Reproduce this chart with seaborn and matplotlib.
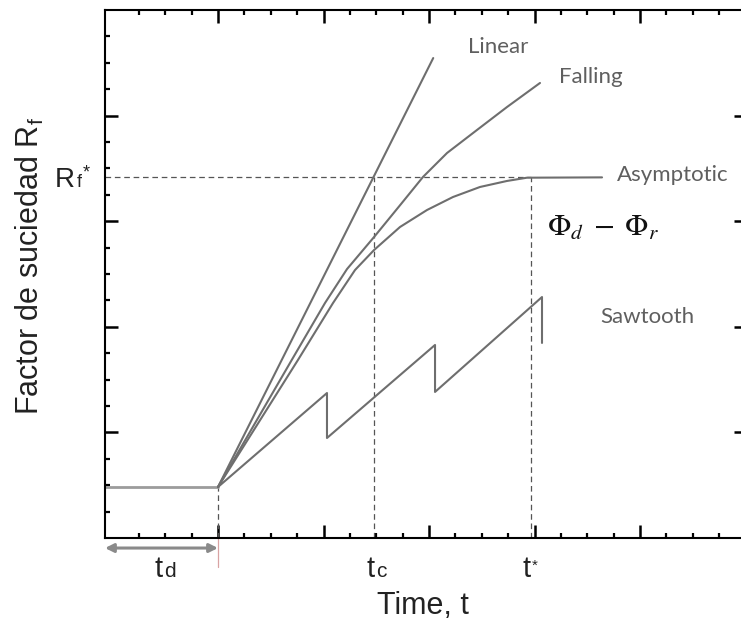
import matplotlib
matplotlib.use("Agg")
import matplotlib.pyplot as plt
from matplotlib.ticker import FixedLocator, NullFormatter
import seaborn as sns

# ---------------- data ----------------
lead_time = [-0.07, 1.0]
lead_level = [0.483, 0.483]

linear_t = [1.0, 3.04]
linear_r = [0.483, 4.545]

falling_t = [1.000, 1.699, 2.014, 2.223, 2.479, 2.735, 2.943, 3.171, 3.455, 3.739, 4.052]
falling_r = [0.483, 1.686, 2.225, 2.547, 2.850, 3.163, 3.419, 3.646, 3.864, 4.081, 4.309]

asym_t = [1.000, 1.758, 2.090, 2.299, 2.479, 2.725, 2.981, 3.227, 3.483, 3.739, 3.929, 4.640]
asym_r = [0.483, 1.686, 2.225, 2.538, 2.727, 2.945, 3.106, 3.229, 3.324, 3.381, 3.412, 3.415]

saw_t = [1.0, 2.033, 2.033, 3.057, 3.057, 4.071, 4.071]
saw_r = [0.483, 1.373, 0.947, 1.828, 1.383, 2.282, 1.847]

t_d = 1.0
t_c = 2.479
t_star = 3.964
rf_star = 3.415

curve_labels = ["Linear", "Falling", "Asymptotic", "Sawtooth"]
phi_label = r"$\Phi_{d}\;-\;\Phi_{r}$"
x_title = "Time, t"
y_title = "Factor de suciedad R"

# ---------------- styling ----------------
sns.set_style("white")
plt.rcParams["font.family"] = ["Liberation Sans", "DejaVu Sans"]

LINE = "#6e6e6e"
LEAD = "#9c9c9c"
GUIDE = "#555555"
LABEL_GRAY = "#5f5f5f"
TXT = "#222222"

fig = plt.figure(figsize=(7.41, 6.23), dpi=100)
ax = fig.add_axes([105 / 741, 85 / 623, 642 / 741, 528 / 623])
ax.set_xlim(-0.071, 6.014)
ax.set_ylim(0, 5)

# guides
x0 = ax.get_xlim()[0]
gkw = dict(color=GUIDE, lw=0.9, ls=(0, (4.5, 3)), zorder=1)
ax.plot([x0, t_star], [rf_star, rf_star], **gkw)
ax.plot([t_c, t_c], [0, rf_star], **gkw)
ax.plot([t_star, t_star], [0, rf_star], **gkw)
ax.plot([t_d, t_d], [0, lead_level[-1]], **gkw)

# curves via seaborn
sns.lineplot(x=lead_time, y=lead_level, estimator=None, sort=False, color=LEAD, lw=2.0, ax=ax)
for xs, ys in [(linear_t, linear_r), (falling_t, falling_r), (asym_t, asym_r), (saw_t, saw_r)]:
    sns.lineplot(x=xs, y=ys, estimator=None, sort=False, color=LINE, lw=1.5, ax=ax)

# ticks
ax.xaxis.set_major_locator(FixedLocator([1, 2, 3, 4, 5]))
ax.xaxis.set_minor_locator(FixedLocator([k / 4 for k in range(1, 24) if k % 4]))
ax.yaxis.set_major_locator(FixedLocator([1, 2, 3, 4]))
ax.yaxis.set_minor_locator(FixedLocator([k / 4 for k in range(1, 20) if k % 4]))
ax.xaxis.set_major_formatter(NullFormatter())
ax.yaxis.set_major_formatter(NullFormatter())
ax.tick_params(which="major", direction="in", length=9.5, width=1.8, color="black",
               top=True, right=True, bottom=True, left=True)
ax.tick_params(which="minor", direction="in", length=3.8, width=1.6, color="black",
               top=True, right=False, bottom=True, left=True)
for s in ax.spines.values():
    s.set_linewidth(1.5)
    s.set_color("black")

# curve labels
lab_font = ["Lato", "DejaVu Sans"]
lkw = dict(fontsize=16, color=LABEL_GRAY, family=lab_font, va="center")
ax.text(3.654, 4.65, curve_labels[0], ha="center", **lkw)
ax.text(4.536, 4.366, curve_labels[1], ha="center", **lkw)
ax.text(4.782, 3.44, curve_labels[2], ha="left", **lkw)
ax.text(4.621, 2.093, curve_labels[3], ha="left", **lkw)
ax.text(4.118, 2.935, phi_label, ha="left", va="center", fontsize=22, color="#111111", math_fontfamily="stix")

# below-axis annotations
ax.plot([t_d, t_d], [0, -0.275], color="#d9a3a3", lw=0.9, clip_on=False)
ax.annotate("", xy=(x0, -0.095), xytext=(t_d, -0.095), annotation_clip=False,
            arrowprops=dict(arrowstyle="<|-|>,head_length=0.5,head_width=0.25", color="#8a8a8a", lw=2.2,
                            shrinkA=0, shrinkB=0))

base_y = -0.369
for xc, sub, dy, fs in [(0.441, "d", 0.0, 15), (t_c - 0.03, "c", 0.0, 15), (3.925, "*", 0.07, 11)]:
    ax.text(xc, base_y, "t", ha="center", va="baseline", fontsize=21, color=TXT, clip_on=False)
    ax.annotate(sub, xy=(xc, base_y + dy), xytext=(3.5, 0), textcoords="offset points",
                ha="left", va="baseline", fontsize=fs, color=TXT, annotation_clip=False)

# R_f* label on the y axis
ax.annotate("R", xy=(x0, rf_star), xytext=(-22, -7), textcoords="offset points", ha="right", va="baseline",
            fontsize=20, color=TXT, annotation_clip=False)
ax.annotate("f", xy=(x0, rf_star), xytext=(-16.5, -7), textcoords="offset points", ha="right", va="baseline",
            fontsize=13, color=TXT, annotation_clip=False)
ax.annotate("*", xy=(x0, rf_star), xytext=(-11, 0), textcoords="offset points", ha="right", va="baseline",
            fontsize=13, color=TXT, annotation_clip=False)

# axis titles
fig.text(423 / 741, 1 - 606 / 623, x_title, ha="center", va="center", fontsize=22, color=TXT)
fig.text(30 / 741, 1 - 266 / 623, y_title + r"$_{\mathregular{f}}$", ha="center", va="center",
         rotation=90, fontsize=22, color=TXT)

fig.savefig("out.png", dpi=100)
